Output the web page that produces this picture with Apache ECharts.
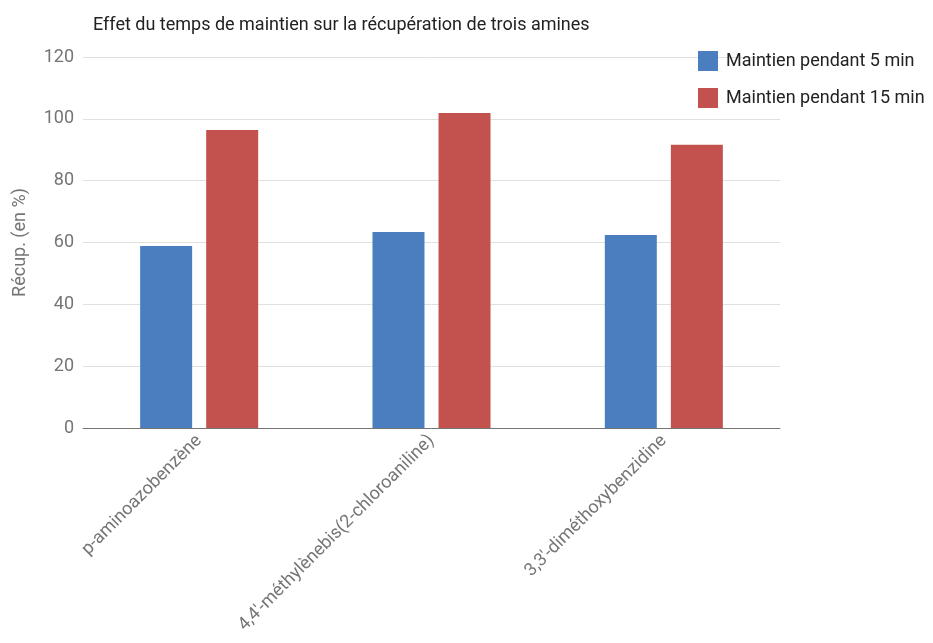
<!DOCTYPE html>
<html><head><meta charset="utf-8">
<script src="https://cdn.jsdelivr.net/npm/echarts@6/dist/echarts.min.js"></script>
<style>html,body{margin:0;padding:0;background:#fff}#c{width:933px;height:643px}</style>
</head><body><div id="c"></div>
<script>
const categories = ["p-aminoazobenzène", "4,4'-méthylènebis(2-chloroaniline)", "3,3'-diméthoxybenzidine"];
const series5min = [58.9, 63.4, 62.4];
const series15min = [96.4, 101.9, 91.6];
const seriesNames = ["Maintien pendant 5 min", "Maintien pendant 15 min"];
const yTicks = [0, 20, 40, 60, 80, 100, 120];

const chart = echarts.init(document.getElementById('c'));
chart.setOption({
  animation: false,
  textStyle: { fontFamily: 'Roboto' },
  title: {
    text: 'Effet du temps de maintien sur la récupération de trois amines',
    left: 88, top: 11,
    textStyle: { fontSize: 18, fontWeight: 'normal', color: '#222', fontFamily: 'Roboto' }
  },
  legend: {
    orient: 'vertical', left: 693, top: 46,
    itemWidth: 20, itemHeight: 20, itemGap: 17,
    icon: 'rect',
    textStyle: { fontSize: 18, color: '#222', fontFamily: 'Roboto', padding: [0, 0, 0, 3] },
    data: seriesNames
  },
  grid: { left: 83, right: 153, top: 57, bottom: 215 },
  xAxis: {
    type: 'category', data: categories,
    axisLine: { lineStyle: { color: '#757575', width: 1 } },
    axisTick: { show: false },
    axisLabel: { rotate: 45, fontSize: 18, color: '#757575', margin: 10, interval: 0 }
  },
  yAxis: {
    type: 'value', min: yTicks[0], max: yTicks[yTicks.length - 1], interval: 20,
    name: 'Récup. (en %)', nameLocation: 'middle', nameGap: 54,
    nameTextStyle: { fontSize: 18, color: '#757575' },
    axisLine: { show: false }, axisTick: { show: false },
    axisLabel: { fontSize: 18, color: '#757575', margin: 9 },
    splitLine: { lineStyle: { color: '#e0e0e0' } }
  },
  series: [
    { name: seriesNames[0], type: 'bar', data: series5min, barWidth: 52, barGap: '27%',
      itemStyle: { color: '#4a7ebf' } },
    { name: seriesNames[1], type: 'bar', data: series15min, barWidth: 52,
      itemStyle: { color: '#c3524f' } }
  ]
});
</script></body></html>
